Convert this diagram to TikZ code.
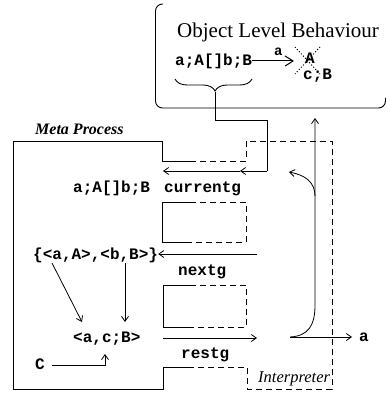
\documentclass[tikz,border=0pt]{standalone}
\usepackage{fontspec}
\setmainfont{Liberation Serif}
\setmonofont{Liberation Mono}
\usetikzlibrary{decorations.pathreplacing,arrows.meta}
\begin{document}
\begin{tikzpicture}[x=1pt,y=-1pt,
  code/.style={font=\fontsize{16}{16}\selectfont\ttfamily\bfseries, inner sep=0pt, anchor=base west},
  lbl/.style={inner sep=0pt, anchor=base west},
  solidline/.style={line width=0.9pt},
  dashline/.style={line width=1pt, dash pattern=on 6pt off 4pt},
  arr/.style={line width=0.8pt, -{Straight Barb[length=5pt,width=7pt]}},
  bigarr/.style={line width=1pt, -{Straight Barb[length=8pt,width=10pt]}},
  dotx/.style={line width=1pt, dash pattern=on 1pt off 2pt}
]
\useasboundingbox (0,0) rectangle (387,393);

% Object level behaviour box
\draw[solidline, rounded corners=7pt] (163,4) -- (155.5,4) -- (155.5,108) -- (385.5,108) -- (385.5,98);
\node[lbl, font=\fontsize{21}{21}\selectfont] (title) at (177,38) {Object Level Behaviour};
\node[code] (obj) at (175,66) {a;A[]b;B};
\node[code, anchor=base] (objA) at (310,64) {A};
\node[code] (objc) at (303,80) {c;B};
\node[code, font=\fontsize{14}{14}\selectfont\ttfamily\bfseries] (obja) at (274,56) {a};
\coordinate (arrtip) at (294,61);
\draw[bigarr] (obj.east |- arrtip) -- (arrtip);
\coordinate (x1) at (295,47); \coordinate (x2) at (320,74);
\coordinate (x3) at (320,47); \coordinate (x4) at (295,74);
\draw[dotx] (x1) -- (x2);
\draw[dotx] (x3) -- (x4);
\coordinate (brL) at (175,79); \coordinate (brR) at (252,79);
\draw[line width=0.9pt, decorate, decoration={brace, mirror, amplitude=12pt, aspect=0.52}] (brL) -- (brR);
\coordinate (brT) at (215,92);
\coordinate (p1) at (215,120);
\coordinate (p2) at (267,120);
\coordinate (p3) at (267,171);
\coordinate (p4) at (240,171);
\coordinate (p5) at (163,171);
\draw[solidline] (brT) -- (p1) -- (p2) -- (p3);
\draw[arr] (p3) -- (p4);
\draw[arr] (p4) -- (p5);

% Meta process outline (solid) and interpreter (dashed)
\draw[solidline] (190,161) -- (162,161) -- (162,141) -- (13,141) -- (13,389) -- (163,389) -- (163,367) -- (190,367);
\draw[dashline] (190,161) -- (246,161) -- (246,141) -- (332,141) -- (332,389) -- (247,389) -- (247,367) -- (190,367);
\draw[solidline] (190,202) -- (162,202) -- (162,242) -- (190,242);
\draw[dashline] (190,202) -- (246,202) -- (246,242) -- (190,242);
\draw[solidline] (190,285) -- (163,285) -- (163,327) -- (190,327);
\draw[dashline] (190,285) -- (246,285) -- (246,327) -- (190,327);

\node[lbl, font=\fontsize{16}{16}\selectfont\bfseries\itshape] (meta) at (35,135) {Meta Process};
\node[lbl, font=\fontsize{16.5}{16.5}\selectfont\itshape] (interp) at (258,382) {Interpreter};

% texts in meta process
\node[code] (cur) at (73,192) {a;A[]b;B};
\node[code] (curlbl) at (164,192) {currentg};
\node[code] (pairs) at (33,259) {\{<a,A>,<b,B>\}};
\node[code] (nextlbl) at (178,275) {nextg};
\node[code] (acb) at (73,342) {<a,c;B>};
\node[code] (restlbl) at (181,358) {restg};
\node[code] (C) at (35,369) {C};
\node[code] (outa) at (359,341) {a};

\coordinate (n1) at (257,254);
\draw[arr] (n1) -- (pairs.east |- n1);
\coordinate (pa1) at (52,263); \coordinate (pa2) at (82,322);
\draw[arr] (pa1) -- (pa2);
\coordinate (pb1) at (125,263); \coordinate (pb2) at (125,322);
\draw[arr] (pb1) -- (pb2);
\coordinate (c1) at (52,365); \coordinate (c2) at (105,365); \coordinate (c3) at (105,354);
\draw[arr] (c1) -- (c2) -- (c3);
\coordinate (r1) at (163,338); \coordinate (r2) at (257,338);
\draw[arr] (r1) -- (r2);

% output and feedback
\coordinate (o1) at (290,337);
\coordinate (o2) at (352,337);
\coordinate (vt) at (315,118);
\coordinate (br1) at (315,196);
\coordinate (br2) at (289,172);
\draw[arr] (o1) -- (o2);
\draw[arr] (o1) .. controls (308,336) and (315,326) .. (315,305) -- (vt);
\draw[arr] (br1) .. controls (315,182) and (305,175) .. (br2);
\end{tikzpicture}
\end{document}
